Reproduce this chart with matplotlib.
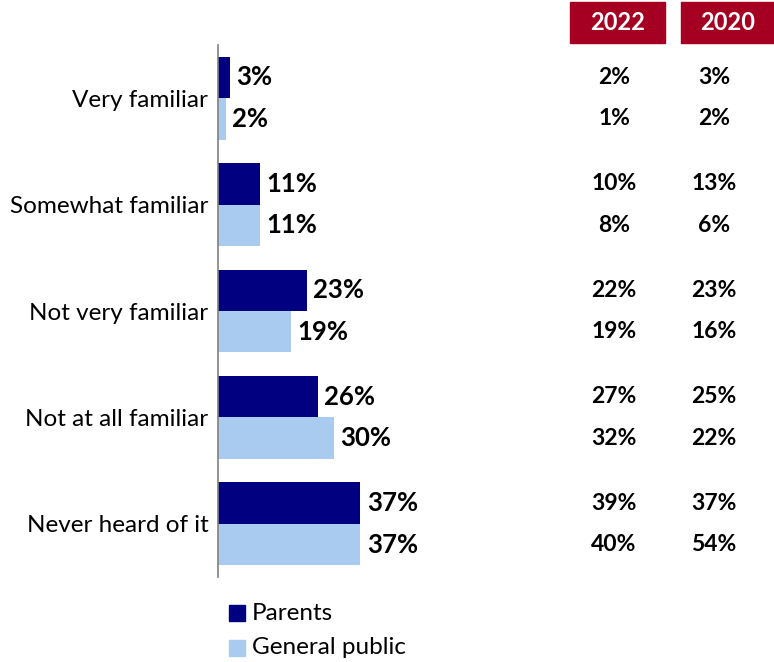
import matplotlib
matplotlib.use("Agg")
import matplotlib.pyplot as plt
from matplotlib.patches import Rectangle

plt.rcParams['font.family'] = ['Lato', 'DejaVu Sans']

categories = ["Very familiar", "Somewhat familiar", "Not very familiar",
              "Not at all familiar", "Never heard of it"]
parents = [3, 11, 23, 26, 37]
general_public = [2, 11, 19, 30, 37]

years = ["2022", "2020"]
parents_2022 = [2, 10, 22, 27, 39]
public_2022 = [1, 8, 19, 32, 40]
parents_2020 = [3, 13, 23, 25, 37]
public_2020 = [2, 6, 16, 22, 54]

c_parents = "#000080"
c_public = "#A9CBF0"
c_header = "#A50021"

W, H = 774, 662
fig = plt.figure(figsize=(W / 100, H / 100), dpi=100)

# axes in pixel terms: left 218, top 45, bottom 577, right 560
ax_left, ax_right, ax_top, ax_bottom = 218, 560, 45, 577
ax = fig.add_axes([ax_left / W, 1 - ax_bottom / H,
                   (ax_right - ax_left) / W, (ax_bottom - ax_top) / H])

bh = 0.39
ys = list(range(len(categories)))
ax.barh([y - bh / 2 for y in ys], parents, height=bh, color=c_parents)
ax.barh([y + bh / 2 for y in ys], general_public, height=bh, color=c_public)

xmax = (ax_right - ax_left) / 3.85
ax.set_xlim(0, xmax)
ax.set_ylim(4.5, -0.5)

for y, v in zip(ys, parents):
    ax.annotate(f"{v}%", (v, y - bh / 2), xytext=(4.5, 0), textcoords="offset points",
                va="center", ha="left", fontsize=18.5, fontweight="bold")
for y, v in zip(ys, general_public):
    ax.annotate(f"{v}%", (v, y + bh / 2), xytext=(4.5, 0), textcoords="offset points",
                va="center", ha="left", fontsize=18.5, fontweight="bold")

ax.set_yticks(ys)
ax.set_yticklabels(categories, fontsize=17.5)
ax.tick_params(axis="y", length=0, pad=7)
ax.set_xticks([])
for s in ["top", "right", "bottom"]:
    ax.spines[s].set_visible(False)
ax.spines["left"].set_color("#808080")
ax.spines["left"].set_linewidth(1.2)

# comparison columns
col_x = [614, 714]
col_vals = [(parents_2022, public_2022), (parents_2020, public_2020)]
for cx, (pv, gv) in zip(col_x, col_vals):
    for y, a, b in zip(ys, pv, gv):
        ya = ax.transData.transform((0, y - bh / 2))[1]
        yb = ax.transData.transform((0, y + bh / 2))[1]
        fig.text(cx / W, ya / H, f"{a}%", ha="center", va="center",
                 fontsize=16.5, fontweight="bold")
        fig.text(cx / W, yb / H, f"{b}%", ha="center", va="center",
                 fontsize=16.5, fontweight="bold")

# year headers
boxes = [(570, 665), (681, 774)]
for (x0, x1), yr in zip(boxes, years):
    fig.patches.append(Rectangle((x0 / W, 1 - 43 / H), (x1 - x0) / W, 41 / H,
                                 transform=fig.transFigure, color=c_header))
    fig.text((x0 + x1) / 2 / W, 1 - 22.5 / H, yr, ha="center", va="center",
             color="white", fontsize=17, fontweight="bold")

# legend
for i, (lab, col) in enumerate([("Parents", c_parents), ("General public", c_public)]):
    yc = 613 + 35 * i
    fig.patches.append(Rectangle((229 / W, 1 - (yc + 8) / H), 16 / W, 16 / H,
                                 transform=fig.transFigure, color=col))
    fig.text(252 / W, 1 - yc / H, lab, ha="left", va="center", fontsize=17.5)

fig.savefig("out.png", dpi=100)
